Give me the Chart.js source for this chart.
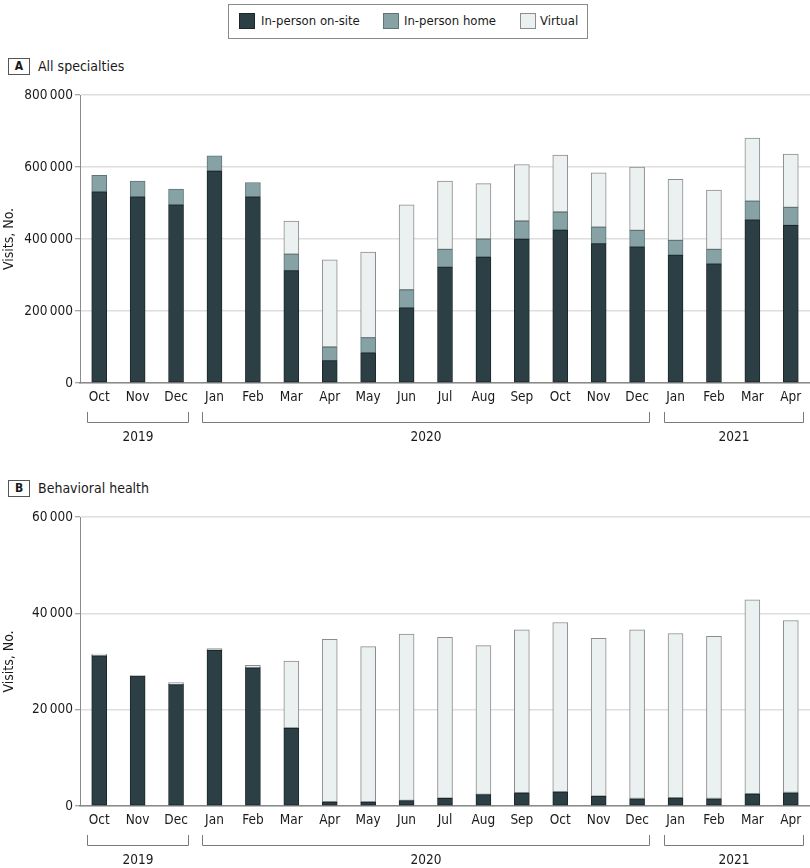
<!DOCTYPE html>
<html lang="en">
<head>
    <meta charset="UTF-8">
    <title>Visits by type, all specialties and behavioral health</title>
    <script src="https://cdn.jsdelivr.net/npm/chart.js"></script>
    <style>
        body {
            font-family: "DejaVu Sans Condensed", "Liberation Sans Narrow", Roboto, sans-serif;
            background: #ffffff;
            color: #1a1a1a;
            margin: 0;
            width: 810px;
            height: 868px;
            position: relative;
            overflow: hidden;
        }
        #legend {
            position: absolute;
            left: 228px;
            top: 4px;
            width: 358px;
            height: 33px;
            border: 1px solid #8a8a8a;
        }
        #legend .sw {
            position: absolute;
            top: 8px;
            width: 14px;
            height: 14px;
            border: 1px solid;
        }
        #legend .lb {
            position: absolute;
            top: 7px;
            font-size: 13px;
            line-height: 18px;
            white-space: nowrap;
        }
        .panel-label {
            position: absolute;
            left: 8px;
            height: 17px;
            font-size: 14px;
            line-height: 17px;
            white-space: nowrap;
        }
        .panel-label .box {
            display: inline-block;
            width: 20px;
            height: 15px;
            border: 1px solid #555;
            text-align: center;
            font-weight: bold;
            font-size: 12px;
            line-height: 15px;
            margin-right: 8px;
            vertical-align: top;
        }
        .wrap {
            position: absolute;
            left: 0;
            width: 810px;
        }
    </style>
</head>
<body>

<div id="legend">
    <span class="sw" style="left:10px;background:#2c3f44;border-color:#1c2628"></span>
    <span class="lb" style="left:32px">In-person on-site</span>
    <span class="sw" style="left:154px;background:#86a2a5;border-color:#5e7477"></span>
    <span class="lb" style="left:175px">In-person home</span>
    <span class="sw" style="left:291px;background:#ebf0f0;border-color:#8c8c8c"></span>
    <span class="lb" style="left:311px">Virtual</span>
</div>

<div class="panel-label" style="top:58px"><span class="box">A</span>All specialties</div>
<div class="wrap" style="top:80px;height:365px"><canvas id="chartA"></canvas></div>

<div class="panel-label" style="top:480px"><span class="box">B</span>Behavioral health</div>
<div class="wrap" style="top:502px;height:366px"><canvas id="chartB"></canvas></div>

<script>
const months = ['Oct', 'Nov', 'Dec', 'Jan', 'Feb', 'Mar', 'Apr', 'May', 'Jun', 'Jul',
                'Aug', 'Sep', 'Oct', 'Nov', 'Dec', 'Jan', 'Feb', 'Mar', 'Apr'];
const years = ['2019', '2020', '2021'];
const yearFirst = [0, 3, 15];
const yearLast = [2, 14, 18];

// A: all specialties
const allOnsite = [531000, 517000, 495000, 589000, 517000, 312000, 62000, 84000, 209000, 322000,
                   350000, 400000, 425000, 387000, 378000, 355000, 331000, 453000, 438000];
const allHome = [46000, 44000, 44000, 42000, 40000, 46000, 38000, 42000, 50000, 49000,
                 50000, 50000, 50000, 46000, 46000, 41000, 40000, 52000, 50000];
const allVirtual = [0, 0, 0, 0, 0, 92000, 242000, 238000, 236000, 190000,
                    154000, 157000, 158000, 151000, 176000, 170000, 165000, 175000, 148000];

// B: behavioral health
const bhOnsite = [31200, 27000, 25200, 32300, 28700, 16100, 830, 800, 1100, 1600,
                  2350, 2700, 2900, 2000, 1500, 1660, 1500, 2500, 2760];
const bhHome = [100, 0, 100, 100, 100, 100, 50, 50, 50, 50,
                50, 50, 50, 50, 50, 50, 50, 50, 50];
const bhVirtual = [260, 50, 300, 300, 400, 13900, 33720, 32250, 34550, 33350,
                   30900, 33850, 35150, 32750, 35050, 34100, 33650, 40250, 35700];

const FONT = '"DejaVu Sans Condensed", "Liberation Sans Narrow", Roboto, sans-serif';
const FS = 13.5;

const yearBrackets = {
    id: 'yearBrackets',
    afterDraw(chart) {
        const ctx = chart.ctx;
        const x = chart.scales.x;
        const bottom = chart.chartArea.bottom;
        ctx.save();
        ctx.strokeStyle = '#7a7a7a';
        ctx.lineWidth = 1;
        ctx.fillStyle = '#1a1a1a';
        ctx.font = FS + 'px ' + FONT;
        ctx.textAlign = 'center';
        ctx.textBaseline = 'middle';
        for (let i = 0; i < years.length; i++) {
            const x0 = Math.round(x.getPixelForValue(yearFirst[i]) - 12) + 0.5;
            const x1 = Math.round(x.getPixelForValue(yearLast[i]) + 12) + 0.5;
            const yTop = bottom + 29;
            const yBot = Math.round(bottom + 39) + 0.5;
            ctx.beginPath();
            ctx.moveTo(x0, yTop);
            ctx.lineTo(x0, yBot);
            ctx.lineTo(x1, yBot);
            ctx.lineTo(x1, yTop);
            ctx.stroke();
            ctx.fillText(years[i], (x0 + x1) / 2, bottom + 54);
        }
        ctx.restore();
    }
};

function fmt(v) {
    return String(v).replace(/\B(?=(\d{3})+(?!\d))/g, '\u2009');
}

function makeChart(id, onsite, home, virtual, yMax, yStep) {
    const ds = (label, data, bg, bd) => ({
        label: label,
        data: data,
        backgroundColor: bg,
        borderColor: bd,
        borderWidth: 1,
        borderSkipped: false,
        barThickness: 15
    });
    return new Chart(document.getElementById(id), {
        type: 'bar',
        data: {
            labels: months,
            datasets: [
                ds('In-person on-site', onsite, '#2c3f44', '#1c2628'),
                ds('In-person home', home, '#86a2a5', '#5e7477'),
                ds('Virtual', virtual, '#ebf0f0', '#8c8c8c')
            ]
        },
        plugins: [yearBrackets],
        options: {
            responsive: true,
            maintainAspectRatio: false,
            animation: false,
            layout: { padding: { top: 15, right: 0, left: 0, bottom: 0 } },
            plugins: {
                legend: { display: false },
                tooltip: {
                    callbacks: {
                        label: c => c.dataset.label + ': ' + fmt(c.raw)
                    }
                }
            },
            scales: {
                x: {
                    stacked: true,
                    grid: { display: false, drawTicks: false },
                    border: { display: true, color: '#8a8a8a', width: 1.5 },
                    ticks: {
                        color: '#1a1a1a',
                        font: { family: FONT, size: FS },
                        padding: 6,
                        autoSkip: false,
                        maxRotation: 0
                    },
                    afterFit: s => { s.height = 62; }
                },
                y: {
                    stacked: true,
                    min: 0,
                    max: yMax,
                    grid: {
                        color: '#dedede',
                        lineWidth: 1.5,
                        tickLength: 5,
                        tickColor: '#8a8a8a',
                        tickWidth: 1
                    },
                    border: { display: true, color: '#8a8a8a', width: 1 },
                    ticks: {
                        stepSize: yStep,
                        color: '#1a1a1a',
                        font: { family: FONT, size: FS },
                        padding: 2,
                        callback: v => fmt(v)
                    },
                    title: {
                        display: true,
                        text: 'Visits, No.',
                        color: '#1a1a1a',
                        font: { family: FONT, size: 14 },
                        padding: { top: 1, bottom: 0 }
                    },
                    afterFit: s => { s.width = 80; }
                }
            }
        }
    });
}

makeChart('chartA', allOnsite, allHome, allVirtual, 800000, 200000);
makeChart('chartB', bhOnsite, bhHome, bhVirtual, 60000, 20000);
</script>

</body>
</html>
